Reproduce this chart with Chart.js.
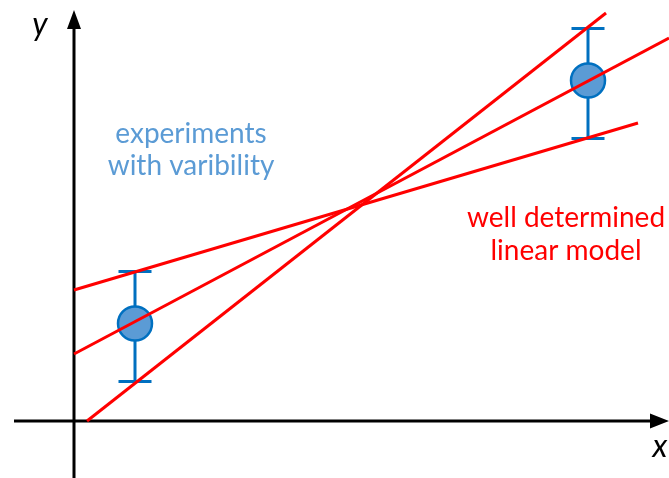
<!DOCTYPE html>
<html>
<head>
<meta charset="utf-8">
<script src="https://cdn.jsdelivr.net/npm/chart.js@4"></script>
<style>
  html, body { margin: 0; padding: 0; background: #fff; }
  #wrap { width: 669px; height: 478px; position: relative; }
</style>
</head>
<body>
<div id="wrap"><canvas id="chart"></canvas></div>
<script>
// measurements (x, y) with their variability range
const pointX = [1.22, 10.28];
const pointY = [1.95, 6.81];
const errLow = [0.79, 5.65];
const errHigh = [2.99, 7.85];
const capHalf = 0.33;

// candidate linear models, given by their end points
const lineShallow = [{ x: 0, y: 2.62 }, { x: 11.28, y: 5.96 }];
const lineMiddle = [{ x: 0, y: 1.34 }, { x: 11.9, y: 7.66 }];
const lineSteep = [{ x: 0.26, y: 0 }, { x: 10.64, y: 8.16 }];

// view window and drawn axes
const xMin = -1.48, xMax = 11.9;
const yMin = -1.14, yMax = 8.42;
const xAxisFrom = -1.2, yAxisTo = 8.22;

const labels = [
  { lines: ['experiments', 'with varibility'], x: 2.34, y: [5.56, 4.92], color: '#5b9bd5' },
  { lines: ['well determined', 'linear model'], x: 9.84, y: [3.88, 3.22], color: '#ff0000' },
];
const axisNames = [
  { text: 'y', x: -0.68, y: 7.72 },
  { text: 'x', x: 11.72, y: -0.72 },
];

const errData = [];
pointX.forEach((x, i) => {
  const lo = errLow[i], hi = errHigh[i];
  errData.push({ x, y: lo }, { x, y: hi }, { x, y: null });
  errData.push({ x: x - capHalf, y: hi }, { x: x + capHalf, y: hi }, { x, y: null });
  errData.push({ x: x - capHalf, y: lo }, { x: x + capHalf, y: lo }, { x, y: null });
});

const redLine = data => ({
  type: 'line',
  data,
  borderColor: '#ff0000',
  borderWidth: 3,
  pointRadius: 0,
  order: 0,
});

const axesPlugin = {
  id: 'axes',
  beforeDatasetsDraw(chart) {
    const { ctx, scales: { x, y } } = chart;
    const ox = x.getPixelForValue(0), oy = y.getPixelForValue(0);
    const left = x.getPixelForValue(xAxisFrom), right = x.getPixelForValue(xMax);
    const top = y.getPixelForValue(yAxisTo), bottom = y.getPixelForValue(yMin);
    ctx.save();
    ctx.strokeStyle = '#000';
    ctx.fillStyle = '#000';
    ctx.lineWidth = 3;
    ctx.beginPath();
    ctx.moveTo(left, oy);
    ctx.lineTo(right - 12, oy);
    ctx.moveTo(ox, bottom);
    ctx.lineTo(ox, top + 12);
    ctx.stroke();
    ctx.beginPath();
    ctx.moveTo(right, oy);
    ctx.lineTo(right - 19, oy - 7.5);
    ctx.lineTo(right - 19, oy + 7.5);
    ctx.closePath();
    ctx.moveTo(ox, top);
    ctx.lineTo(ox - 7, top + 19);
    ctx.lineTo(ox + 7, top + 19);
    ctx.closePath();
    ctx.fill();
    ctx.font = 'italic 32px Lato';
    ctx.textAlign = 'center';
    ctx.textBaseline = 'alphabetic';
    axisNames.forEach(a => ctx.fillText(a.text, x.getPixelForValue(a.x), y.getPixelForValue(a.y)));
    ctx.font = '28px Lato';
    labels.forEach(l => {
      ctx.fillStyle = l.color;
      l.lines.forEach((t, i) => ctx.fillText(t, x.getPixelForValue(l.x), y.getPixelForValue(l.y[i])));
    });
    ctx.restore();
  },
};

new Chart(document.getElementById('chart'), {
  type: 'scatter',
  data: {
    datasets: [
      redLine(lineShallow),
      redLine(lineMiddle),
      redLine(lineSteep),
      {
        type: 'scatter',
        data: pointX.map((x, i) => ({ x, y: pointY[i] })),
        backgroundColor: '#5b9bd5',
        borderColor: '#0070c0',
        borderWidth: 2.5,
        pointRadius: 17,
        pointHoverRadius: 17,
        order: 1,
      },
      {
        type: 'line',
        data: errData,
        borderColor: '#0070c0',
        borderWidth: 3,
        pointRadius: 0,
        spanGaps: false,
        order: 2,
      },
    ],
  },
  options: {
    responsive: true,
    maintainAspectRatio: false,
    animation: false,
    layout: { padding: 0, autoPadding: false },
    plugins: { legend: { display: false }, tooltip: { enabled: false } },
    scales: {
      x: { type: 'linear', min: xMin, max: xMax, display: false },
      y: { type: 'linear', min: yMin, max: yMax, display: false },
    },
  },
  plugins: [axesPlugin],
});
</script>
</body>
</html>
